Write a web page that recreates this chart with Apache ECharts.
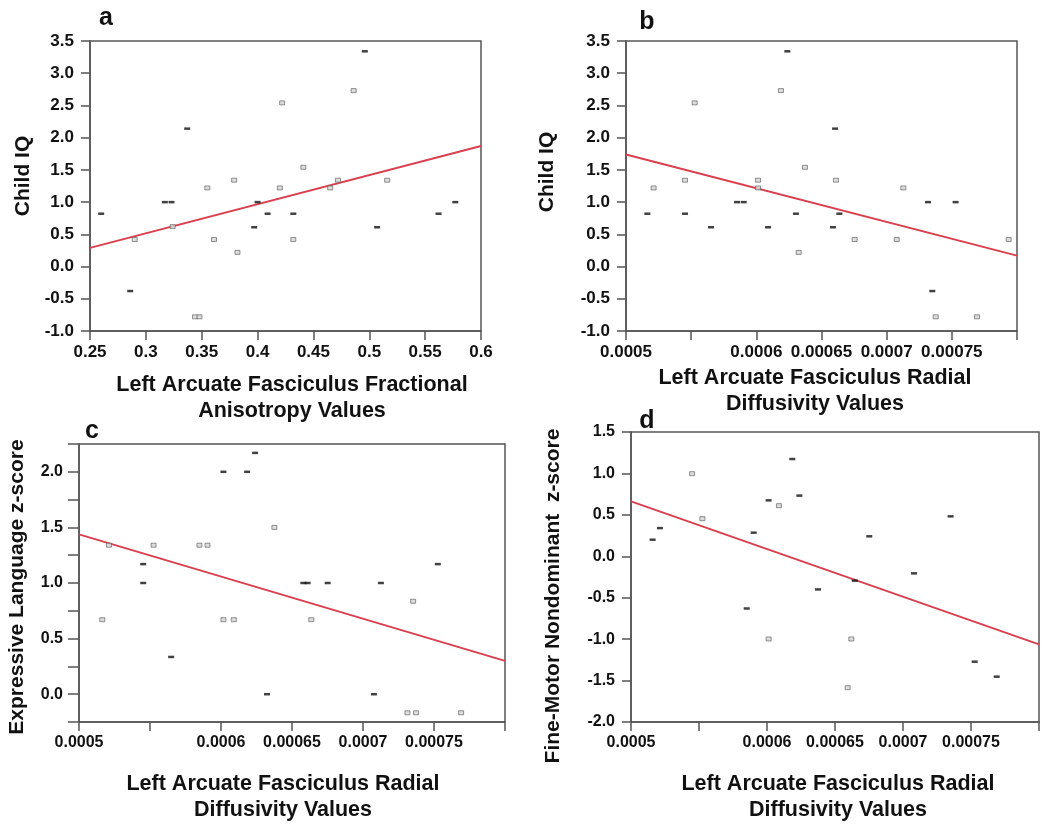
<!DOCTYPE html>
<html>
<head>
<meta charset="utf-8">
<script src="https://cdn.jsdelivr.net/npm/echarts@6/dist/echarts.min.js"></script>
<style>
html,body{margin:0;padding:0;background:#fff;}
#chart{width:1050px;height:829px;}
</style>
</head>
<body>
<div id="chart"></div>
<script>
// ---------- DATA ----------
// Panel a: Child IQ vs Left AF Fractional Anisotropy
var aFilledX = [0.260, 0.286, 0.317, 0.323, 0.337, 0.397, 0.400, 0.409, 0.432, 0.496, 0.507, 0.562, 0.577];
var aFilledY = [0.82, -0.38, 1.00, 1.00, 2.14, 0.61, 1.00, 0.82, 0.82, 3.34, 0.61, 0.82, 1.00];
var aOpenX = [0.290, 0.324, 0.344, 0.348, 0.355, 0.361, 0.379, 0.382, 0.420, 0.422, 0.432, 0.441, 0.465, 0.472, 0.486, 0.516];
var aOpenY = [0.42, 0.62, -0.78, -0.78, 1.22, 0.42, 1.34, 0.22, 1.22, 2.54, 0.42, 1.54, 1.22, 1.34, 2.73, 1.34];
var aFitX = [0.25, 0.60];
var aFitY = [0.29, 1.87];

// Panel b: Child IQ vs Left AF Radial Diffusivity
var bFilledX = [0.0005164, 0.0005453, 0.0005652, 0.0005852, 0.0005903, 0.0006090, 0.0006238, 0.0006304, 0.0006588, 0.0006604, 0.0006637, 0.0007317, 0.0007350, 0.0007529];
var bFilledY = [0.82, 0.82, 0.61, 1.00, 1.00, 0.61, 3.34, 0.82, 0.61, 2.14, 0.82, 1.00, -0.38, 1.00];
var bOpenX = [0.0005212, 0.0005453, 0.0005527, 0.0006013, 0.0006013, 0.0006189, 0.0006325, 0.0006373, 0.0006611, 0.0006754, 0.0007077, 0.0007128, 0.0007376, 0.0007693, 0.0007936];
var bOpenY = [1.22, 1.34, 2.54, 1.34, 1.22, 2.73, 0.22, 1.54, 1.34, 0.42, 0.42, 1.22, -0.78, -0.78, 0.42];
var bFitX = [0.0005, 0.0008];
var bFitY = [1.74, 0.17];

// Panel c: Expressive Language z-score vs Left AF Radial Diffusivity
var cFilledX = [0.0005452, 0.0005452, 0.0005649, 0.0006017, 0.0006184, 0.0006240, 0.0006324, 0.0006580, 0.0006610, 0.0006751, 0.0007077, 0.0007126, 0.0007527];
var cFilledY = [1.17, 1.00, 0.335, 2.00, 2.00, 2.17, 0.00, 1.00, 1.00, 1.00, 0.00, 1.00, 1.17];
var cOpenX = [0.0005164, 0.0005211, 0.0005525, 0.0005848, 0.0005905, 0.0006017, 0.0006090, 0.0006376, 0.0006636, 0.0007313, 0.0007353, 0.0007374, 0.0007691];
var cOpenY = [0.67, 1.34, 1.34, 1.34, 1.34, 0.67, 0.67, 1.50, 0.67, -0.167, 0.836, -0.167, -0.167];
var cFitX = [0.0005, 0.0008];
var cFitY = [1.437, 0.30];

// Panel d: Fine-Motor Nondominant z-score vs Left AF Radial Diffusivity
var dFilledX = [0.0005159, 0.0005213, 0.0005851, 0.0005902, 0.0006012, 0.0006186, 0.0006238, 0.0006375, 0.0006645, 0.0006752, 0.0007081, 0.0007350, 0.0007527, 0.0007689];
var dFilledY = [0.20, 0.34, -0.63, 0.285, 0.675, 1.174, 0.732, -0.40, -0.294, 0.241, -0.206, 0.482, -1.272, -1.453];
var dOpenX = [0.0005449, 0.0005525, 0.0006012, 0.0006088, 0.0006593, 0.0006620];
var dOpenY = [0.997, 0.454, -0.998, 0.611, -1.586, -0.998];
var dFitX = [0.0005, 0.0008];
var dFitY = [0.663, -1.063];

// Tick labels
var faTickLabels = ['0.25', '0.3', '0.35', '0.4', '0.45', '0.5', '0.55', '0.6'];
var rdTickLabels = ['0.0005', '', '0.0006', '0.00065', '0.0007', '0.00075', ''];

// Texts
var panelLetters = ['a', 'b', 'c', 'd'];
var yNames = ['Child IQ', 'Child IQ', 'Expressive Language z-score', 'Fine-Motor Nondominant  z-score'];
var xNames = [
  ['Left Arcuate Fasciculus Fractional', 'Anisotropy Values'],
  ['Left Arcuate Fasciculus Radial', 'Diffusivity Values'],
  ['Left Arcuate Fasciculus Radial', 'Diffusivity Values'],
  ['Left Arcuate Fasciculus Radial', 'Diffusivity Values']
];

// ---------- BUILD ----------
function zip(xs, ys) { return xs.map(function (x, i) { return [x, ys[i]]; }); }

var FONT = "'Liberation Sans', Arial, sans-serif";
var AX = '#555555';
var RED = '#d9404f';

var grids = [
  {left: 90, top: 41, width: 391, height: 290},
  {left: 626, top: 41, width: 391, height: 290},
  {left: 79, top: 444, width: 426, height: 278},
  {left: 631, top: 432, width: 408, height: 290}
].map(function (g) {
  return Object.assign({show: true, borderColor: AX, borderWidth: 1.5, backgroundColor: 'transparent', containLabel: false}, g);
});

function faFmt(v) { var i = Math.round((v - 0.25) / 0.05); return faTickLabels[i] || ''; }
function rdFmt(v) { var i = Math.round((v - 0.0005) / 0.00005); return rdTickLabels[i] || ''; }
function oneDec(v) { return (Math.round(v * 100) / 100).toFixed(1); }
function halfOnly(v) { var q = Math.round(v * 4); return (Math.abs(q) % 2 === 0) ? oneDec(v) : ''; }

function xAxisDef(idx, min, max, interval, fmt, fs) {
  return {
    gridIndex: idx, type: 'value', min: min, max: max, interval: interval,
    axisLine: {show: true, onZero: false, lineStyle: {color: AX, width: 1.5}},
    axisTick: {show: true, length: 9, lineStyle: {color: AX, width: 1.5}},
    splitLine: {show: false},
    axisLabel: {show: true, showMinLabel: true, showMaxLabel: true, margin: 13, fontSize: fs, fontWeight: 'bold', color: '#111', fontFamily: FONT, formatter: fmt}
  };
}
function yAxisDef(idx, min, max, interval, fmt, fs, tickLen) {
  return {
    gridIndex: idx, type: 'value', min: min, max: max, interval: interval,
    axisLine: {show: true, onZero: false, lineStyle: {color: AX, width: 1.5}},
    axisTick: {show: true, length: tickLen, lineStyle: {color: AX, width: 1.5}},
    splitLine: {show: false},
    axisLabel: {show: true, showMinLabel: true, showMaxLabel: true, margin: 16, fontSize: fs, fontWeight: 'bold', color: '#111', fontFamily: FONT, formatter: fmt}
  };
}

var xAxes = [
  xAxisDef(0, 0.25, 0.6, 0.05, faFmt, 17),
  xAxisDef(1, 0.0005, 0.0008, 0.00005, rdFmt, 17),
  xAxisDef(2, 0.0005, 0.0008, 0.00005, rdFmt, 16),
  xAxisDef(3, 0.0005, 0.0008, 0.00005, rdFmt, 16)
];
var yAxes = [
  yAxisDef(0, -1, 3.5, 0.5, oneDec, 17, 9),
  yAxisDef(1, -1, 3.5, 0.5, oneDec, 17, 9),
  yAxisDef(2, -0.25, 2.25, 0.25, halfOnly, 16, 11),
  yAxisDef(3, -2, 1.5, 0.5, oneDec, 16, 9)
];

var panels = [
  {fx: aFilledX, fy: aFilledY, ox: aOpenX, oy: aOpenY, lx: aFitX, ly: aFitY},
  {fx: bFilledX, fy: bFilledY, ox: bOpenX, oy: bOpenY, lx: bFitX, ly: bFitY},
  {fx: cFilledX, fy: cFilledY, ox: cOpenX, oy: cOpenY, lx: cFitX, ly: cFitY},
  {fx: dFilledX, fy: dFilledY, ox: dOpenX, oy: dOpenY, lx: dFitX, ly: dFitY}
];

var series = [];
panels.forEach(function (p, i) {
  series.push({
    type: 'line', xAxisIndex: i, yAxisIndex: i, data: zip(p.lx, p.ly),
    symbol: 'none', lineStyle: {color: RED, width: 2}, z: 2, silent: true
  });
  series.push({
    type: 'scatter', xAxisIndex: i, yAxisIndex: i, data: zip(p.ox, p.oy),
    symbol: 'rect', symbolSize: [5, 4],
    itemStyle: {color: '#d4d4d4', borderColor: '#5a5a5a', borderWidth: 0.8}, z: 3, silent: true
  });
  series.push({
    type: 'scatter', xAxisIndex: i, yAxisIndex: i, data: zip(p.fx, p.fy),
    symbol: 'rect', symbolSize: [6, 2.5],
    itemStyle: {color: '#111'}, z: 4, silent: true
  });
});

// Text layout (positions only)
var letterPos = [[106, 18], [647, 22], [92, 431], [647, 421]];
var yNamePos = [[23, 176], [547, 172], [17, 587], [553, 596]];
var xNamePos = [[292, 385], [815, 378], [283, 784], [838, 784]];
var graphics = [];
panelLetters.forEach(function (t, i) {
  graphics.push({type: 'text', x: letterPos[i][0], y: letterPos[i][1], z: 10,
    style: {text: t, font: 'bold 25px ' + FONT, fill: '#111', align: 'center', verticalAlign: 'middle'}});
});
yNames.forEach(function (t, i) {
  graphics.push({type: 'text', x: yNamePos[i][0], y: yNamePos[i][1], rotation: Math.PI / 2, z: 10,
    style: {text: t, font: 'bold 21px ' + FONT, fill: '#111', align: 'center', verticalAlign: 'middle'}});
});
xNames.forEach(function (lines, i) {
  lines.forEach(function (t, k) {
    graphics.push({type: 'text', x: xNamePos[i][0], y: xNamePos[i][1] + k * 26, z: 10,
      style: {text: t, font: 'bold 21.5px ' + FONT, fill: '#111', align: 'center', verticalAlign: 'middle'}});
  });
});

var chart = echarts.init(document.getElementById('chart'), null, {renderer: 'canvas'});
chart.setOption({
  animation: false,
  backgroundColor: '#fff',
  grid: grids,
  xAxis: xAxes,
  yAxis: yAxes,
  series: series,
  graphic: graphics
});
</script>
</body>
</html>
